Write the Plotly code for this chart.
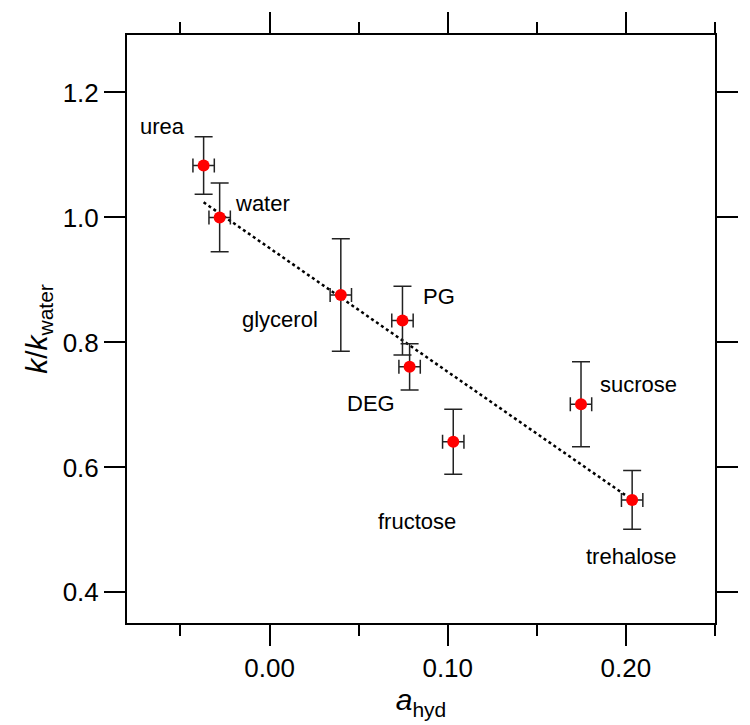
import plotly.graph_objects as go

# ---- data ----
solvents = ["urea", "water", "glycerol", "PG", "DEG", "fructose", "sucrose", "trehalose"]
a_hyd = [-0.037, -0.028, 0.040, 0.0746, 0.0786, 0.1031, 0.1748, 0.2035]
a_hyd_err = [0.006, 0.006, 0.006, 0.006, 0.006, 0.006, 0.006, 0.006]
k_ratio = [1.083, 1.000, 0.876, 0.835, 0.761, 0.641, 0.701, 0.548]
k_err = [0.046, 0.055, 0.090, 0.055, 0.037, 0.052, 0.068, 0.047]

# linear fit drawn in the reference
fit_slope = -1.98
fit_intercept = 0.951

# label anchor points (data coordinates)
label_x = [-0.060, -0.004, 0.006, 0.095, 0.057, 0.083, 0.207, 0.203]
label_y = [1.145, 1.022, 0.837, 0.874, 0.703, 0.514, 0.732, 0.458]

x_ticks = [0.00, 0.10, 0.20]
x_ticklabels = ["0.00", "0.10", "0.20"]
y_ticks = [0.4, 0.6, 0.8, 1.0, 1.2]
y_ticklabels = ["0.4", "0.6", "0.8", "1.0", "1.2"]

FONT = "Liberation Sans, Arial, Helvetica, sans-serif"

fig = go.Figure()

x0, x1 = min(a_hyd), max(a_hyd)
fig.add_trace(go.Scatter(
    x=[x0, x1], y=[fit_intercept + fit_slope * x0, fit_intercept + fit_slope * x1],
    mode="lines", line=dict(color="black", width=2.5, dash="dot"),
    hoverinfo="skip", showlegend=False))

fig.add_trace(go.Scatter(
    x=a_hyd, y=k_ratio, mode="markers",
    marker=dict(color="#ff0000", size=12),
    error_y=dict(type="data", array=k_err, visible=True, color="#222222", thickness=1.5, width=9),
    error_x=dict(type="data", array=a_hyd_err, visible=True, color="#222222", thickness=1.5, width=7),
    text=solvents, showlegend=False))

for name, lx, ly in zip(solvents, label_x, label_y):
    fig.add_annotation(x=lx, y=ly, text=name, showarrow=False,
                       font=dict(family=FONT, size=22, color="black"),
                       xanchor="center", yanchor="middle")

axis_common = dict(
    showline=True, linewidth=2, linecolor="black", mirror="ticks",
    ticks="outside", ticklen=21, tickwidth=2, tickcolor="black",
    showgrid=False, zeroline=False,
    tickfont=dict(family=FONT, size=26, color="black"),
)

fig.update_xaxes(
    range=[-0.08, 0.25], tickvals=x_ticks, ticktext=x_ticklabels,
    minor=dict(dtick=0.1, tick0=0.05, ticks="outside", ticklen=11, tickwidth=2, tickcolor="black"),
    title=dict(text="<i>a</i><sub>hyd</sub>", font=dict(family=FONT, size=30, color="black"), standoff=4),
    **axis_common)
fig.update_yaxes(
    range=[0.351, 1.292], tickvals=y_ticks, ticktext=y_ticklabels,
    title=dict(text="<i>k</i>/<i>k</i><sub>water</sub>", font=dict(family=FONT, size=30, color="black"), standoff=6),
    **axis_common)

fig.update_layout(
    width=750, height=725,
    margin=dict(l=127, r=23, t=23, b=102),
    plot_bgcolor="white", paper_bgcolor="white",
    font=dict(family=FONT),
)

fig.write_html("out.html")
